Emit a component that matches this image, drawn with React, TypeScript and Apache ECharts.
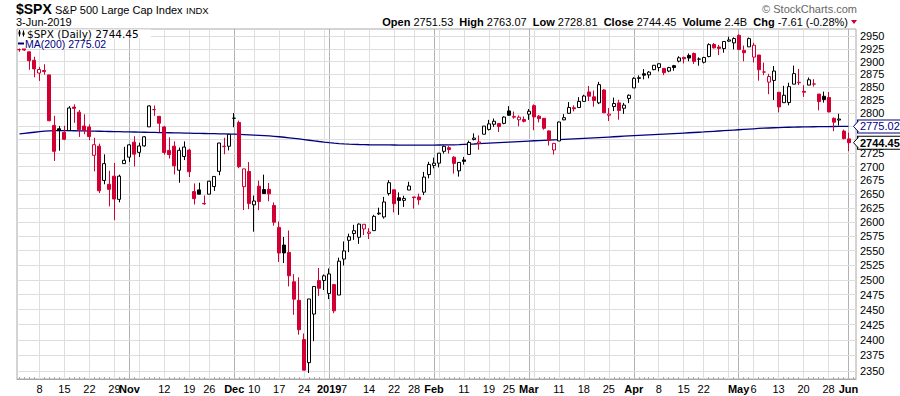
import React, { useEffect, useRef } from 'react';
import * as echarts from 'echarts';

// ---------- data ----------
const dates = [
  '2018-10-02','2018-10-03','2018-10-04','2018-10-05','2018-10-08','2018-10-09','2018-10-10','2018-10-11','2018-10-12',
  '2018-10-15','2018-10-16','2018-10-17','2018-10-18','2018-10-19','2018-10-22','2018-10-23','2018-10-24','2018-10-25','2018-10-26',
  '2018-10-29','2018-10-30','2018-10-31','2018-11-01','2018-11-02','2018-11-05','2018-11-06','2018-11-07','2018-11-08','2018-11-09',
  '2018-11-12','2018-11-13','2018-11-14','2018-11-15','2018-11-16','2018-11-19','2018-11-20','2018-11-21','2018-11-23',
  '2018-11-26','2018-11-27','2018-11-28','2018-11-29','2018-11-30','2018-12-03','2018-12-04','2018-12-06','2018-12-07',
  '2018-12-10','2018-12-11','2018-12-12','2018-12-13','2018-12-14','2018-12-17','2018-12-18','2018-12-19','2018-12-20','2018-12-21',
  '2018-12-24','2018-12-26','2018-12-27','2018-12-28','2018-12-31','2019-01-02','2019-01-03','2019-01-04',
  '2019-01-07','2019-01-08','2019-01-09','2019-01-10','2019-01-11','2019-01-14','2019-01-15','2019-01-16','2019-01-17','2019-01-18',
  '2019-01-22','2019-01-23','2019-01-24','2019-01-25','2019-01-28','2019-01-29','2019-01-30','2019-01-31','2019-02-01',
  '2019-02-04','2019-02-05','2019-02-06','2019-02-07','2019-02-08','2019-02-11','2019-02-12','2019-02-13','2019-02-14','2019-02-15',
  '2019-02-19','2019-02-20','2019-02-21','2019-02-22','2019-02-25','2019-02-26','2019-02-27','2019-02-28','2019-03-01',
  '2019-03-04','2019-03-05','2019-03-06','2019-03-07','2019-03-08','2019-03-11','2019-03-12','2019-03-13','2019-03-14','2019-03-15',
  '2019-03-18','2019-03-19','2019-03-20','2019-03-21','2019-03-22','2019-03-25','2019-03-26','2019-03-27','2019-03-28','2019-03-29',
  '2019-04-01','2019-04-02','2019-04-03','2019-04-04','2019-04-05','2019-04-08','2019-04-09','2019-04-10','2019-04-11','2019-04-12',
  '2019-04-15','2019-04-16','2019-04-17','2019-04-18','2019-04-22','2019-04-23','2019-04-24','2019-04-25','2019-04-26',
  '2019-04-29','2019-04-30','2019-05-01','2019-05-02','2019-05-03','2019-05-06','2019-05-07','2019-05-08','2019-05-09','2019-05-10',
  '2019-05-13','2019-05-14','2019-05-15','2019-05-16','2019-05-17','2019-05-20','2019-05-21','2019-05-22','2019-05-23','2019-05-24',
  '2019-05-28','2019-05-29','2019-05-30','2019-05-31','2019-06-03',
];

const opens = [
  2923.80,2931.69,2919.35,2902.54,2877.53,2882.51,2873.90,2776.87,2770.54,
  2763.83,2767.05,2811.67,2802.00,2775.66,2773.94,2721.03,2737.87,2674.88,2667.86,
  2682.65,2640.68,2705.60,2717.58,2745.45,2726.37,2738.40,2774.13,2806.83,2794.10,
  2773.93,2730.05,2737.90,2693.52,2718.70,2730.74,2654.60,2657.74,2633.36,
  2649.97,2663.75,2691.45,2736.97,2737.76,2790.50,2782.43,2663.51,2691.26,
  2630.86,2664.44,2658.23,2658.70,2629.68,2590.75,2559.90,2547.05,2496.77,2465.38,
  2400.56,2363.12,2442.50,2498.77,2498.94,2476.96,2491.92,2474.33,
  2535.61,2568.11,2580.00,2573.51,2588.11,2580.31,2585.10,2614.75,2609.28,2651.27,
  2657.88,2643.48,2638.84,2657.44,2644.97,2644.89,2653.62,2685.49,2702.32,
  2706.49,2728.34,2735.05,2717.53,2692.36,2712.40,2722.61,2750.30,2743.50,2760.24,
  2769.28,2779.05,2780.24,2780.67,2804.35,2792.36,2787.50,2788.11,2798.22,
  2814.37,2794.41,2790.27,2766.53,2730.79,2747.61,2787.34,2799.78,2810.38,2810.79,
  2822.61,2840.76,2831.34,2819.72,2844.52,2796.01,2812.66,2819.72,2809.40,2828.27,
  2848.63,2868.24,2876.09,2873.99,2884.16,2888.46,2886.58,2881.37,2891.92,2900.86,
  2908.32,2912.26,2916.04,2904.81,2898.78,2909.99,2934.00,2928.99,2925.81,
  2940.58,2937.14,2952.33,2922.16,2929.21,2908.89,2913.03,2879.61,2859.84,2863.10,
  2840.19,2820.12,2820.38,2855.80,2858.60,2841.94,2854.02,2856.06,2836.70,2832.41,
  2830.03,2790.25,2786.94,2766.15,2751.53,
];

const highs = [
  2931.42,2939.86,2919.78,2909.64,2889.45,2894.83,2874.02,2795.14,2775.77,
  2775.99,2813.46,2816.94,2806.04,2797.77,2778.94,2753.59,2742.59,2722.70,2692.38,
  2706.85,2685.43,2736.69,2741.67,2756.55,2744.27,2756.82,2815.15,2814.75,2794.10,
  2775.99,2754.60,2746.80,2735.38,2746.75,2733.16,2669.44,2670.73,2647.55,
  2674.35,2682.53,2744.00,2753.75,2760.88,2800.18,2785.93,2696.15,2708.54,
  2647.51,2674.35,2685.44,2670.19,2635.07,2601.13,2573.99,2585.29,2509.63,2504.41,
  2410.34,2467.76,2489.10,2520.27,2509.24,2519.49,2493.14,2538.07,
  2566.16,2579.82,2595.32,2597.82,2596.27,2589.32,2613.08,2625.76,2645.06,2675.47,
  2657.88,2653.19,2647.20,2672.38,2644.97,2650.93,2690.44,2708.95,2716.66,
  2724.99,2738.98,2738.08,2719.32,2708.07,2718.05,2748.19,2761.85,2757.90,2775.66,
  2787.33,2789.88,2781.58,2794.20,2813.49,2803.12,2795.76,2793.73,2808.02,
  2816.88,2796.44,2790.27,2767.25,2744.13,2784.00,2798.32,2821.24,2815.00,2830.73,
  2835.41,2852.42,2843.54,2860.31,2846.16,2809.79,2829.87,2825.56,2819.71,2836.03,
  2869.40,2872.90,2885.25,2881.28,2893.24,2895.95,2886.88,2889.71,2893.42,2910.54,
  2909.60,2916.06,2918.00,2908.40,2909.51,2936.31,2936.83,2933.10,2939.88,
  2949.52,2948.22,2954.13,2931.68,2947.85,2937.32,2913.03,2897.96,2875.97,2891.31,
  2840.19,2852.54,2858.68,2892.15,2885.48,2853.86,2868.88,2865.47,2836.70,2841.36,
  2840.51,2792.03,2799.00,2768.98,2763.07,
];

const lows = [
  2919.37,2921.36,2883.92,2869.29,2862.08,2874.27,2784.86,2710.51,2729.44,
  2749.03,2766.91,2781.81,2755.18,2760.27,2749.22,2691.43,2651.89,2667.84,2628.16,
  2603.54,2635.34,2705.60,2708.85,2700.44,2717.94,2737.08,2774.13,2794.99,2764.24,
  2722.00,2714.98,2685.75,2670.75,2712.16,2681.09,2631.52,2649.82,2631.09,
  2649.97,2655.89,2684.38,2722.94,2730.08,2773.38,2697.18,2621.53,2623.14,
  2583.23,2621.30,2650.26,2637.27,2593.84,2530.54,2528.71,2488.96,2441.18,2408.55,
  2351.10,2346.58,2397.94,2472.89,2482.82,2467.47,2443.96,2474.33,
  2524.56,2547.56,2568.89,2562.02,2577.40,2570.41,2585.10,2612.68,2606.36,2647.58,
  2617.27,2612.86,2627.01,2657.33,2624.06,2631.05,2648.34,2678.65,2696.88,
  2698.75,2724.03,2724.15,2687.26,2681.83,2703.79,2722.61,2748.63,2731.23,2760.24,
  2767.29,2774.06,2764.55,2779.11,2794.99,2789.47,2775.13,2782.51,2787.38,
  2767.66,2782.54,2768.69,2739.09,2722.27,2747.61,2786.73,2799.78,2803.46,2810.79,
  2821.99,2823.27,2812.43,2817.38,2800.47,2785.02,2803.99,2787.72,2798.77,2819.23,
  2848.63,2858.75,2865.17,2867.14,2882.99,2880.78,2873.33,2879.13,2881.99,2898.37,
  2896.48,2900.71,2895.45,2891.90,2896.35,2908.53,2926.05,2912.84,2917.56,
  2939.35,2924.11,2923.36,2900.50,2929.21,2898.21,2862.60,2873.28,2836.40,2825.39,
  2801.43,2820.12,2815.08,2855.80,2854.23,2831.29,2854.02,2851.11,2805.49,2820.19,
  2801.58,2766.06,2776.74,2750.52,2728.81,
];

const closes = [
  2923.43,2923.00,2901.61,2885.57,2884.43,2880.34,2785.68,2728.37,2767.13,
  2750.79,2809.92,2809.21,2768.78,2767.78,2755.88,2740.69,2656.10,2705.57,2658.69,
  2641.25,2682.63,2711.74,2740.37,2723.06,2738.31,2755.45,2813.89,2806.83,2781.01,
  2726.22,2722.18,2701.58,2730.20,2736.27,2690.73,2641.89,2649.93,2632.56,
  2673.45,2682.17,2743.79,2737.80,2760.17,2790.37,2700.06,2695.95,2633.08,
  2637.72,2636.78,2651.07,2650.54,2599.95,2545.94,2546.16,2506.96,2467.42,2416.62,
  2351.10,2467.70,2488.83,2485.74,2506.85,2510.03,2447.89,2531.94,
  2549.69,2574.41,2584.96,2596.64,2596.26,2582.61,2610.30,2616.10,2635.96,2670.71,
  2632.90,2638.70,2642.33,2664.76,2643.85,2640.00,2681.05,2704.10,2706.53,
  2724.87,2737.70,2731.61,2706.05,2707.88,2709.80,2744.73,2753.03,2745.73,2775.60,
  2779.76,2784.70,2774.88,2792.67,2796.11,2793.90,2792.38,2784.49,2803.69,
  2792.81,2789.65,2771.45,2748.93,2743.07,2783.30,2791.52,2810.92,2808.48,2822.48,
  2832.94,2832.57,2824.23,2854.88,2800.71,2798.36,2818.46,2805.37,2815.44,2834.40,
  2867.19,2867.24,2873.40,2879.39,2892.74,2895.77,2878.20,2888.21,2888.32,2907.41,
  2905.58,2907.06,2900.45,2905.03,2907.97,2933.68,2927.25,2926.17,2939.88,
  2943.03,2945.83,2923.73,2917.52,2945.64,2932.47,2884.05,2879.42,2870.72,2881.40,
  2811.87,2834.41,2850.96,2876.32,2859.53,2840.23,2864.36,2856.27,2822.24,2826.06,
  2802.39,2783.02,2788.86,2752.06,2744.45,
];

const closeBeforeFirst = 2924.59;

const ma200 = [
  2761,2762,2763,2764,2765,2766,2766.5,2767,2767,
  2767,2767,2766.8,2766.6,2766.4,2766.2,2766,2765.8,2765.6,2765.4,
  2765.2,2765,2764.8,2764.6,2764.4,2764.2,2764,2763.8,2763.6,2763.4,
  2763.2,2763,2762.8,2762.6,2762.4,2762.2,2762,2761.8,2761.6,
  2761.4,2761.2,2761,2760.8,2760.6,2760.3,2760,2759.6,2759.2,
  2758.7,2758.2,2757.6,2757,2756.3,2755.5,2754.6,2753.6,2752.5,2751.4,
  2750.2,2749,2747.8,2746.6,2745.5,2744.5,2743.6,2742.8,
  2742.2,2741.7,2741.3,2741,2740.8,2740.6,2740.5,2740.4,2740.3,2740.2,
  2740.1,2740,2740,2740,2740,2740,2740,2740,2740,
  2740.1,2740.2,2740.3,2740.5,2740.8,2741.2,2741.6,2742,2742.5,2743,
  2743.5,2744,2744.5,2745,2745.5,2746,2746.5,2747,2747.5,
  2748,2748.4,2748.8,2749.2,2749.6,2750,2750.5,2751,2751.5,2752,
  2752.5,2753,2753.5,2754,2754.5,2755,2755.5,2756,2756.5,2757,
  2757.5,2758,2758.5,2759,2759.5,2760,2760.5,2761,2761.5,2762,
  2762.5,2763,2763.5,2764,2764.5,2765.1,2765.7,2766.3,2766.9,
  2767.5,2768.1,2768.7,2769.3,2769.9,2770.5,2771.1,2771.6,2772,2772.4,
  2772.8,2773.1,2773.4,2773.6,2773.8,2774,2774.2,2774.35,2774.5,2774.6,
  2774.7,2774.8,2774.9,2774.97,2775.02,
];

const axisLabelDates = [
  '2018-10-08','2018-10-15','2018-10-22','2018-10-29','2018-11-01','2018-11-12','2018-11-19','2018-11-26',
  '2018-12-03','2018-12-10','2018-12-17','2018-12-24','2019-01-02','2019-01-07','2019-01-14','2019-01-22',
  '2019-01-28','2019-02-01','2019-02-11','2019-02-19','2019-02-25','2019-03-01','2019-03-11','2019-03-18',
  '2019-03-25','2019-04-01','2019-04-08','2019-04-15','2019-04-22','2019-05-01','2019-05-06','2019-05-13',
  '2019-05-20','2019-05-28','2019-06-03',
];
const axisLabelTexts = [
  '8','15','22','29','Nov','12','19','26',
  'Dec','10','17','24','2019','7','14','22',
  '28','Feb','11','19','25','Mar','11','18',
  '25','Apr','8','15','22','May','6','13',
  '20','28','Jun',
];
const boldLabels = ['Nov', 'Dec', '2019', 'Feb', 'Mar', 'Apr', 'May', 'Jun'];

const weekLineDates = [
  '2018-10-08','2018-10-15','2018-10-22','2018-10-29','2018-11-05','2018-11-12','2018-11-19','2018-11-26',
  '2018-12-10','2018-12-17','2018-12-24','2018-12-31','2019-01-07','2019-01-14','2019-01-22','2019-01-28',
  '2019-02-04','2019-02-11','2019-02-19','2019-02-25','2019-03-04','2019-03-11','2019-03-18','2019-03-25',
  '2019-04-08','2019-04-15','2019-04-22','2019-04-29','2019-05-06','2019-05-13','2019-05-20','2019-05-28',
];
const monthLineDates = [
  '2018-11-01','2018-12-03','2019-01-02','2019-02-01','2019-03-01','2019-04-01','2019-05-01','2019-06-03',
];

const priceTicks = [
  2350,2375,2400,2425,2450,2475,2500,2525,2550,2575,2600,2625,2650,
  2675,2700,2725,2750,2775,2800,2825,2850,2875,2900,2925,2950,
];
// tick labels hidden behind the price tags in the reference
const hiddenTickLabels = [2750, 2775];

const lastClose = 2744.45;
const lastMA = 2775.02;

// ---------- styles ----------
const RED = '#d20032';
const NAVY = '#000080';
const GRID_LIGHT = '#dedede';
const GRID_DARK = '#b2b2b2';
const SANS = '"Liberation Sans", Arial, sans-serif';

export default function App() {
  const ref = useRef<HTMLDivElement>(null);

  useEffect(() => {
    if (!ref.current) return;
    const chart = echarts.init(ref.current, undefined, { renderer: 'svg' });

    const categories = [...dates, ''];
    const labelMap: Record<string, string> = {};
    axisLabelDates.forEach((d, i) => { labelMap[d] = axisLabelTexts[i]; });

    const candleData = dates.map((d, i) => {
      const o = opens[i];
      const c = closes[i];
      const pc = i === 0 ? closeBeforeFirst : closes[i - 1];
      const stroke = c >= pc ? '#000000' : RED;
      const fill = c > o ? '#ffffff' : stroke;
      return {
        value: [o, c, lows[i], highs[i]],
        itemStyle: {
          color: fill, color0: fill,
          borderColor: stroke, borderColor0: stroke, borderColorDoji: stroke,
        },
      };
    });

    const gridMarks: any[] = [];
    weekLineDates.forEach((d) => gridMarks.push({
      xAxis: d, lineStyle: { color: GRID_LIGHT, width: 1, type: 'solid' }, label: { show: false },
    }));
    monthLineDates.forEach((d) => gridMarks.push({
      xAxis: d, lineStyle: { color: GRID_DARK, width: 1, type: 'solid' }, label: { show: false },
    }));
    priceTicks.forEach((p) => gridMarks.push({
      yAxis: p, lineStyle: { color: GRID_LIGHT, width: 1, type: 'solid' },
      label: {
        show: !hiddenTickLabels.includes(p), position: 'end', formatter: String(p), distance: 4,
        color: '#000', fontSize: 11, fontFamily: SANS,
      },
    }));

    const tagLabel = (text: string, color: string, bold: boolean) => ({
      show: true, position: 'end', distance: 2, formatter: text,
      color, fontSize: 11, fontWeight: bold ? 'bold' : 'normal', fontFamily: SANS,
      backgroundColor: '#fff', borderColor: color, borderWidth: 1, padding: [1, 2, 0, 2], lineHeight: 11,
    });
    const hiddenLine = { color: 'rgba(255,255,255,0)', width: 0, type: 'solid' };

    const staticGraphic: any[] = [
      { id: 'h1', type: 'text', x: 16, y: 9, z: 10, style: { text: '$SPX', font: `bold 14px ${SANS}`, fill: '#000', textVerticalAlign: 'middle' } },
      { id: 'h2', type: 'text', x: 55, y: 10, z: 10, style: { text: 'S&P 500 Large Cap Index', font: `11px ${SANS}`, fill: '#000', textVerticalAlign: 'middle' } },
      { id: 'h3', type: 'text', x: 186, y: 10, z: 10, style: { text: 'INDX', font: `9.5px ${SANS}`, fill: '#000', textVerticalAlign: 'middle' } },
      { id: 'h4', type: 'text', x: 16, y: 22, z: 10, style: { text: '3-Jun-2019', font: `11px ${SANS}`, fill: '#000', textVerticalAlign: 'middle' } },
      { id: 'h5', type: 'text', x: 857, y: 9, z: 10, style: { text: '© StockCharts.com', font: `11px ${SANS}`, fill: '#666', textAlign: 'right', textVerticalAlign: 'middle' } },
      {
        id: 'h6', type: 'text', x: 848, y: 22, z: 10,
        style: {
          text: '{b|Open} 2751.53  {b|High} 2763.07  {b|Low} 2728.81  {b|Close} 2744.45  {b|Volume} 2.4B  {b|Chg} -7.61 (-0.28%)',
          font: `11px ${SANS}`, fill: '#000', textAlign: 'right', textVerticalAlign: 'middle',
          rich: { b: { font: `bold 11px ${SANS}`, fill: '#000' } },
        },
      },
      { id: 'h7', type: 'polygon', z: 10, shape: { points: [[851, 20], [857, 20], [854, 24]] }, style: { fill: RED } },
      // legend
      { id: 'l1', type: 'rect', z: 10, shape: { x: 18, y: 29.5, width: 133, height: 9 }, style: { fill: '#fff' } },
      { id: 'l2', type: 'rect', z: 10, shape: { x: 18, y: 38.5, width: 87, height: 10 }, style: { fill: '#fff' } },
      { id: 'l3', type: 'line', z: 11, shape: { x1: 19.5, y1: 30, x2: 19.5, y2: 36.5 }, style: { stroke: '#000', lineWidth: 1 } },
      { id: 'l4', type: 'rect', z: 11, shape: { x: 18.5, y: 31.5, width: 2, height: 3 }, style: { fill: '#000' } },
      { id: 'l5', type: 'line', z: 11, shape: { x1: 23.5, y1: 30.5, x2: 23.5, y2: 36.5 }, style: { stroke: '#000', lineWidth: 1 } },
      { id: 'l6', type: 'rect', z: 11, shape: { x: 22.5, y: 32.5, width: 2, height: 2.5 }, style: { fill: '#000' } },
      { id: 'l7', type: 'text', x: 27, y: 33.5, z: 11, style: { text: '$SPX (Daily) 2744.45', font: `10.5px "DejaVu Sans", sans-serif`, fill: '#000', textVerticalAlign: 'middle', lineHeight: 9 } },
      { id: 'l8', type: 'line', z: 11, shape: { x1: 18, y1: 43.5, x2: 24, y2: 43.5 }, style: { stroke: NAVY, lineWidth: 2 } },
      { id: 'l9', type: 'text', x: 25, y: 43.8, z: 11, style: { text: 'MA(200) 2775.02', font: `10.5px ${SANS}`, fill: NAVY, textVerticalAlign: 'middle', lineHeight: 9 } },
    ];

    const option: any = {
      animation: false,
      backgroundColor: '#ffffff',
      grid: {
        left: 17, right: 44, top: 29, bottom: 17,
        show: true, borderColor: '#a8a8a8', borderWidth: 1, backgroundColor: '#ffffff',
      },
      xAxis: {
        type: 'category',
        data: categories,
        boundaryGap: true,
        axisLine: { show: true, lineStyle: { color: '#a8a8a8' } },
        axisTick: { show: true, inside: true, length: 2, interval: 0, alignWithLabel: true, lineStyle: { color: '#a8a8a8' } },
        splitLine: { show: false },
        axisLabel: {
          show: true,
          interval: (idx: number, val: string) => labelMap[val] !== undefined,
          formatter: (val: string) => {
            const t = labelMap[val];
            if (t === undefined) return '';
            return boldLabels.includes(t) ? `{b|${t}}` : t;
          },
          margin: 4,
          color: '#000',
          fontSize: 11,
          fontFamily: SANS,
          rich: { b: { fontWeight: 'bold', fontSize: 11, fontFamily: SANS, color: '#000' } },
        },
      },
      yAxis: {
        type: 'log',
        logBase: 10,
        min: 2337,
        max: 2965,
        position: 'right',
        axisLine: { show: false },
        axisTick: { show: false },
        axisLabel: { show: false },
        splitLine: { show: false },
      },
      series: [
        {
          type: 'candlestick',
          data: candleData,
          barWidth: 3.5,
          z: 3,
          itemStyle: { borderWidth: 1 },
          markLine: {
            z: 1,
            silent: true,
            symbol: ['none', 'none'],
            animation: false,
            data: gridMarks,
          },
        },
        {
          type: 'line',
          data: ma200,
          showSymbol: false,
          symbol: 'none',
          z: 2,
          lineStyle: { color: NAVY, width: 1.3 },
          markLine: {
            silent: true,
            symbol: ['none', 'none'],
            animation: false,
            lineStyle: hiddenLine,
            data: [
              { yAxis: lastMA, lineStyle: hiddenLine, label: tagLabel(lastMA.toFixed(2), NAVY, false) },
              { yAxis: lastClose, lineStyle: hiddenLine, label: tagLabel(lastClose.toFixed(2), '#000', true) },
            ],
          },
        },
      ],
      graphic: staticGraphic,
    };

    chart.setOption(option);

    // pointer notches of the two price tags, placed through the y scale
    const notch = (id: string, value: number, color: string) => {
      const y = chart.convertToPixel({ yAxisIndex: 0 }, value) as number;
      return {
        id, type: 'polyline', z: 12,
        shape: { points: [[858.5, y - 5.5], [853.5, y], [858.5, y + 5.5]] },
        style: { stroke: color, fill: '#fff', lineWidth: 1 },
      };
    };
    chart.setOption({
      graphic: [...staticGraphic, notch('n1', lastMA, NAVY), notch('n2', lastClose, '#000')],
    });

    return () => { chart.dispose(); };
  }, []);

  return (
    <div
      ref={ref}
      style={{ position: 'fixed', left: 0, top: 0, width: 900, height: 396, background: '#fff' }}
    />
  );
}
